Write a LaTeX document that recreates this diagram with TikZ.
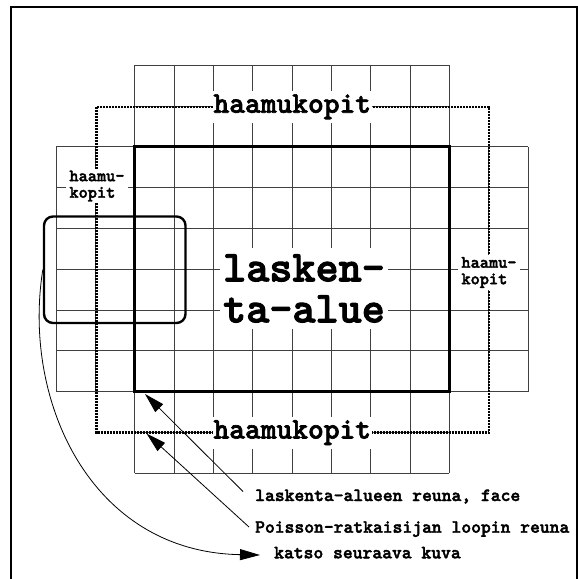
\documentclass[tikz,border=0pt]{standalone}
\usepackage{fontspec}
\newfontfamily\codefont{lmmonolt10-bold.otf}[FakeBold=2.2]
\usetikzlibrary{arrows.meta}

\begin{document}
\begin{tikzpicture}[x=1pt,y=-1pt,
  gridline/.style={line width=0.9pt, black!75},
  domainline/.style={line width=3pt},
  ghostline/.style={line width=2.3pt, dash pattern=on 2pt off 1pt},
  framebox/.style={line width=2pt},
  ghostlabel/.style={fill=white, inner xsep=1pt, inner ysep=3.5pt,
    font=\codefont\fontsize{30}{32}\selectfont},
  smalllabel/.style={fill=white, align=left, inner xsep=3pt, inner ysep=2pt,
    font=\codefont\fontsize{17.5}{16.5}\selectfont},
  biglabel/.style={fill=white, align=center, inner xsep=3pt, inner ysep=6pt,
    font=\codefont\fontsize{44}{41}\selectfont},
  note/.style={anchor=base west, inner sep=0pt,
    font=\codefont\fontsize{18.7}{20}\selectfont},
  zoombox/.style={draw, line width=2.4pt, rounded corners=9pt, inner sep=0pt},
  pointer/.style={line width=0.8pt, -{Triangle[length=20pt,width=11pt]}}]

\useasboundingbox (0,0) rectangle (578,579);

% outer frame (open at the bottom)
\draw[framebox] (11,600) -- (11,7) -- (577,7) -- (577,600);

% cell grid: 8x6 domain, two ghost layers on every side
\foreach \i in {2,...,10}
  \draw[gridline] (56+\i*39.35,65.3) -- (56+\i*39.35,473.3);
\foreach \i in {0,1,11,12}
  \draw[gridline] (56+\i*39.35,146.9) -- (56+\i*39.35,391.7);
\foreach \j in {0,1,9,10}
  \draw[gridline] (134.7,65.3+\j*40.8) -- (449.4,65.3+\j*40.8);
\foreach \j in {2,...,8}
  \draw[gridline] (56,65.3+\j*40.8) -- (528.2,65.3+\j*40.8);

% computational domain boundary
\coordinate (dNW) at (134.7,146.9);
\coordinate (dSE) at (449.4,391.7);
\draw[domainline] (dNW) rectangle (dSE);

% loop boundary of the Poisson solver (ghost layer midline)
\coordinate (lNW) at (96.5,106.8);
\coordinate (lSE) at (489,432.6);
\draw[ghostline] (lNW) rectangle (lSE);

% labels
\node[ghostlabel] (gTop) at (292.3,106.8) {haamukopit};
\node[ghostlabel] (gBot) at (292.3,432.6) {haamukopit};
\node[smalllabel] (gLeft) at (97,186) {haamu-\\kopit};
\node[smalllabel] (gRight) at (489,272.5) {haamu-\\kopit};
\node[biglabel] (dom) at (304,288.5) {lasken-\\ta-alue};

% highlighted corner region
\node[zoombox, minimum width=141.5pt, minimum height=106.5pt] (zoom) at (114.75,269.75) {};

% notes
\node[note] (t1) at (255,501) {laskenta-alueen reuna, face};
\node[note] (t2) at (255,532.7) {Poisson-ratkaisijan loopin reuna};
\node[note] (t3) at (274,558.3) {katso seuraava kuva};

\coordinate (faceTip) at (145,394);
\coordinate (loopTip) at (146.5,433.5);

\draw[pointer] ([shift={(-12,-9.5)}]t1.base west) -- (faceTip);
\draw[pointer] ([shift={(-6,-5.7)}]t2.base west) -- (loopTip);
\draw[pointer] (zoom.west) .. controls (22,400) and (90,552) .. ([shift={(-14,-3.3)}]t3.base west);

\end{tikzpicture}
\end{document}
